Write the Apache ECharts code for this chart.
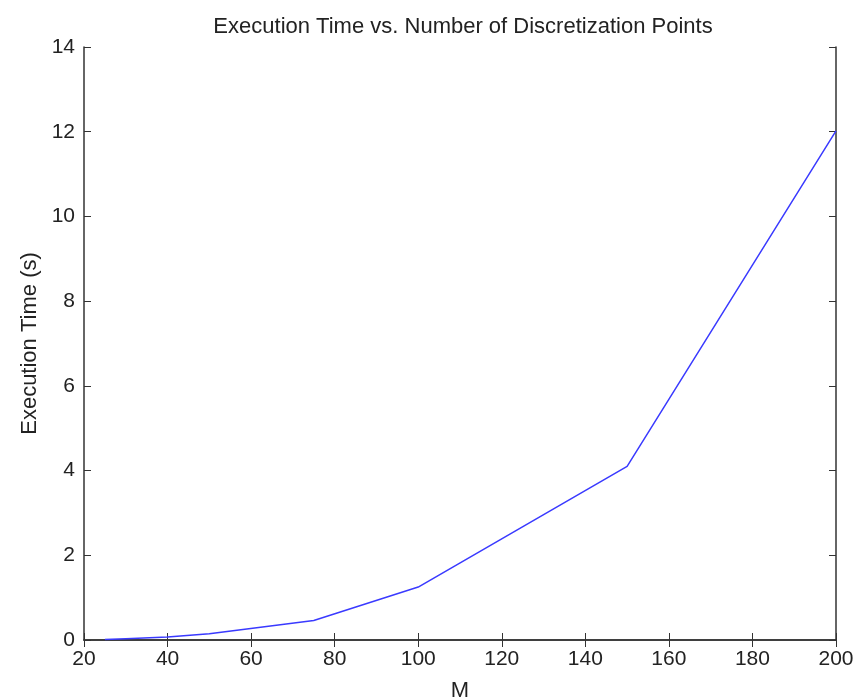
<!DOCTYPE html>
<html>
<head>
<meta charset="utf-8">
<script src="https://cdn.jsdelivr.net/npm/echarts@6/dist/echarts.min.js"></script>
<style>
  html, body { margin: 0; padding: 0; background: #fff; }
  #chart { width: 862px; height: 700px; }
</style>
</head>
<body>
<div id="chart"></div>
<script>
// 离散点数 M 与执行时间(秒)
var m_values = [25, 30, 40, 50, 75, 100, 150, 200];
var exec_times = [0.01, 0.03, 0.07, 0.15, 0.46, 1.25, 4.1, 12.02];

var chart = echarts.init(document.getElementById('chart'));

var points = [];
for (var i = 0; i < m_values.length; i++) {
    points.push([m_values[i], exec_times[i]]);
}

var axisColor = '#333';
var textColor = '#222';
var fontFam = 'Liberation Sans, Arial, sans-serif';

var option = {
    animation: false,
    backgroundColor: '#fff',
    title: {
        text: 'Execution Time vs. Number of Discretization Points',
        left: 458,
        textAlign: 'center',
        top: 11,
        textStyle: { fontFamily: fontFam, fontSize: 22, fontWeight: 'normal', color: textColor }
    },
    grid: { left: 84, right: 26, top: 47, bottom: 60, outerBoundsMode: 'none', containLabel: false },
    xAxis: [{
        type: 'value',
        min: 20, max: 200, interval: 20,
        name: 'M',
        nameLocation: 'middle',
        nameGap: 40,
        nameTextStyle: { fontFamily: fontFam, fontSize: 22, color: textColor },
        axisLine: { lineStyle: { color: axisColor, width: 1.5 } },
        axisTick: { inside: true, length: 7, lineStyle: { color: axisColor } },
        axisLabel: { fontFamily: fontFam, fontSize: 21, color: textColor, margin: 9 },
        splitLine: { show: false }
    }, {
        type: 'value',
        position: 'top',
        min: 20, max: 200, interval: 20,
        axisLine: { lineStyle: { color: axisColor, width: 1.5 } },
        axisTick: { inside: true, length: 7, lineStyle: { color: axisColor } },
        axisLabel: { show: false },
        splitLine: { show: false }
    }],
    yAxis: [{
        type: 'value',
        min: 0, max: 14, interval: 2,
        name: 'Execution Time (s)',
        nameLocation: 'middle',
        nameGap: 43,
        nameTextStyle: { fontFamily: fontFam, fontSize: 22, color: textColor },
        axisLine: { show: true, lineStyle: { color: axisColor, width: 1.5 } },
        axisTick: { show: true, inside: true, length: 7, lineStyle: { color: axisColor } },
        axisLabel: { fontFamily: fontFam, fontSize: 21, color: textColor, margin: 9 },
        splitLine: { show: false }
    }, {
        type: 'value',
        position: 'right',
        min: 0, max: 14, interval: 2,
        axisLine: { show: true, lineStyle: { color: axisColor, width: 1.5 } },
        axisTick: { show: true, inside: true, length: 7, lineStyle: { color: axisColor } },
        axisLabel: { show: false },
        splitLine: { show: false }
    }],
    series: [{
        type: 'line',
        data: points,
        showSymbol: false,
        symbol: 'none',
        lineStyle: { color: '#3a3aff', width: 1.5 }
    }]
};

chart.setOption(option);
</script>
</body>
</html>
